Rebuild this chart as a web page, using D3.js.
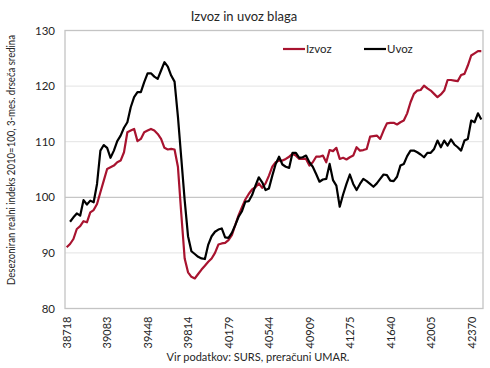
<!DOCTYPE html>
<html><head><meta charset="utf-8">
<script src="https://cdn.jsdelivr.net/npm/d3@7"></script>
<style>body{margin:0;background:#fff}svg{display:block}text{font-family:Lato,"Open Sans",sans-serif;fill:#262626}</style>
</head><body><svg id="c" width="490" height="368"></svg>
<script>
const title = "Izvoz in uvoz blaga";
const yTitle = "Desezoniran realni indeks 2010=100, 3-mes. drseča sredina";
const source = "Vir podatkov: SURS, preračuni UMAR.";
const seriesNames = ["Izvoz", "Uvoz"];
const seriesColors = ["#a8132f", "#000000"];
const yTicks = [80, 90, 100, 110, 120, 130];
const tickLabels = ["38718","39083","39448","39814","40179","40544","40909","41275","41640","42005","42370"];
// monthly categories, Jan 2006 - Apr 2016 (Excel serial dates)
const startSerial = 38718;
const nMonths = 124;
const izvoz = [91.0,91.6,92.5,94.3,94.8,95.7,95.5,97.3,97.7,98.8,100.9,103.0,105.1,105.4,105.7,106.3,106.6,108.1,111.7,112.0,112.3,110.1,110.5,111.7,112.0,112.3,112.0,111.4,110.5,108.9,108.6,108.7,108.6,105.5,97.0,89.0,86.5,85.7,85.4,86.2,87.0,87.7,88.4,89.0,90.0,91.5,91.7,91.8,92.3,93.2,95.0,96.8,98.2,99.6,100.6,101.4,101.8,102.5,101.7,102.5,103.9,105.5,106.3,106.6,106.6,106.9,107.3,107.8,107.5,106.9,106.9,106.9,105.7,106.3,107.3,107.3,107.5,106.3,108.5,108.3,108.9,106.9,107.1,106.8,107.2,107.5,109.0,108.4,108.5,108.7,110.9,111.0,111.1,110.5,112.0,113.3,113.4,113.4,113.1,113.5,113.8,115.1,117.1,118.6,119.2,119.3,120.1,119.6,119.2,118.6,118.0,118.5,119.2,121.1,121.1,121.0,120.9,122.0,122.2,123.7,125.5,125.9,126.3,126.3];
const uvoz = [null,95.6,96.4,97.1,96.7,99.5,98.7,99.4,99.1,102.4,108.4,109.4,108.9,107.1,108.4,110.1,111.1,112.5,113.5,116.2,118.0,118.9,118.9,120.7,122.3,122.3,121.7,121.3,122.8,124.3,123.5,121.9,120.8,114.5,107.0,99.5,93.0,90.3,89.8,89.3,89.0,88.9,91.5,93.0,93.8,94.2,94.4,92.8,92.7,93.6,95.0,96.5,97.5,99.2,99.3,100.4,102.1,103.6,102.7,101.3,101.6,103.9,106.0,107.3,105.9,105.5,105.3,108.0,108.0,107.1,107.2,107.5,106.3,105.5,104.2,102.8,103.2,103.3,106.0,103.1,102.1,98.3,100.5,102.4,104.1,102.4,101.3,102.4,103.3,102.9,102.4,101.9,102.5,103.3,104.1,104.0,103.0,102.9,103.7,105.7,106.0,107.4,108.4,108.4,108.1,107.7,107.2,108.0,108.0,108.7,110.2,109.0,110.2,109.3,110.4,109.5,109.0,108.4,110.2,110.5,113.8,113.5,115.1,114.0];

const excelEpoch = Date.UTC(1899, 11, 30);
const startDate = new Date(excelEpoch + startSerial * 864e5);
const categories = d3.range(nMonths).map(i => {
  const d = new Date(Date.UTC(startDate.getUTCFullYear(), startDate.getUTCMonth() + i, 1));
  return String(Math.round((d - excelEpoch) / 864e5));
});

const svg = d3.select("#c");
const L = 65, R = 483, T = 30.5, B = 308.5;
const x = d3.scalePoint().domain(categories).range([L, R]).padding(0.5);
const y = d3.scaleLinear().domain([80, 130]).range([B, T]);

// gridlines
svg.append("g").selectAll("line").data(yTicks.filter(v => v !== 100 && v !== 80 && v !== 130)).join("line")
  .attr("x1", L).attr("x2", R).attr("y1", d => y(d)).attr("y2", d => y(d))
  .attr("stroke", "#e3e3e3").attr("stroke-width", 1);
// horizontal axis crossing at 100
svg.append("line").attr("x1", L).attr("x2", R).attr("y1", y(100)).attr("y2", y(100))
  .attr("stroke", "#b8b8b8").attr("stroke-width", 1);
// plot border
svg.append("rect").attr("x", L).attr("y", T).attr("width", R - L).attr("height", B - T)
  .attr("fill", "none").attr("stroke", "#c4c4c4").attr("stroke-width", 1.3);

// y axis
const yAxis = d3.axisLeft(y).tickValues(yTicks).tickSize(0).tickPadding(10);
const gy = svg.append("g").attr("transform", `translate(${L},0)`).call(yAxis);
gy.select(".domain").remove();
gy.selectAll("text").attr("font-size", 11.5).style("font-family", "Lato,sans-serif").attr("fill", "#262626");

// x axis
const xAxis = d3.axisBottom(x).tickValues(tickLabels).tickSize(0).tickPadding(0);
const gx = svg.append("g").attr("transform", `translate(0,${B})`).call(xAxis);
gx.select(".domain").remove();
gx.selectAll("text").attr("font-size", 11).style("font-family", "Lato,sans-serif").attr("fill", "#262626")
  .attr("transform", "rotate(-90)").attr("text-anchor", "end").attr("x", -8).attr("y", 0).attr("dy", "0.35em");

// lines
const line = d3.line().defined(d => d[1] != null).x(d => x(d[0])).y(d => y(d[1]));
[izvoz, uvoz].forEach((s, k) => {
  svg.append("path").datum(categories.map((c, i) => [c, s[i]]))
    .attr("d", line).attr("fill", "none").attr("stroke", seriesColors[k])
    .attr("stroke-width", 2.2).attr("stroke-linejoin", "round");
});

// legend
const legX = [283, 364];
seriesNames.forEach((n, k) => {
  svg.append("line").attr("x1", legX[k]).attr("x2", legX[k] + 22).attr("y1", 49).attr("y2", 49)
    .attr("stroke", seriesColors[k]).attr("stroke-width", 2.2);
  svg.append("text").attr("x", legX[k] + 23).attr("y", 49).attr("dy", "0.35em")
    .attr("font-size", 11.5).text(n);
});

// titles
svg.append("text").attr("x", 244).attr("y", 16).attr("dy", "0.35em").attr("text-anchor", "middle")
  .attr("font-size", 13).text(title);
svg.append("text").attr("transform", `translate(11,160) rotate(-90)`).attr("text-anchor", "middle")
  .attr("dy", "0.35em").attr("font-size", 10.5)
  .attr("textLength", 250).attr("lengthAdjust", "spacingAndGlyphs").text(yTitle);
svg.append("text").attr("x", 258).attr("y", 357).attr("dy", "0.35em").attr("text-anchor", "middle")
  .attr("font-size", 11).text(source);
</script></body></html>
